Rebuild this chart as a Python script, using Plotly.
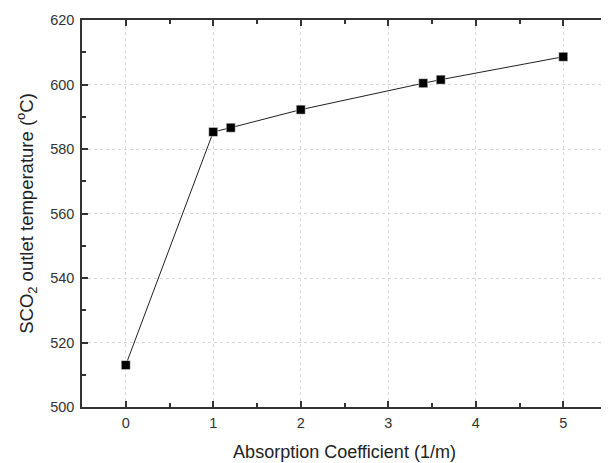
import plotly.graph_objects as go

absorption = [0, 1, 1.2, 2, 3.4, 3.6, 5]
outlet_temp = [513.0, 585.3, 586.6, 592.2, 600.4, 601.5, 608.6]

x_ticks = [0, 1, 2, 3, 4, 5]
y_ticks = [500, 520, 540, 560, 580, 600, 620]

fig = go.Figure()
fig.add_trace(go.Scatter(
    x=absorption, y=outlet_temp, mode="lines+markers",
    line=dict(color="#222222", width=1),
    marker=dict(symbol="square", size=9, color="black",
                line=dict(color="white", width=0.5)),
    showlegend=False,
))

axis_common = dict(
    showline=True, linecolor="#333333", linewidth=1.5, mirror="ticks",
    ticks="inside", ticklen=6, tickwidth=1.5, tickcolor="#333333",
    showgrid=True, gridcolor="#d8d8d8", griddash="dot", gridwidth=1,
    zeroline=False, automargin=False,
    tickfont=dict(family="Liberation Sans, Arial", size=14.5, color="#333333"),
)

fig.update_xaxes(
    range=[-0.5, 5.5], tickvals=x_ticks, ticklabelstandoff=2,
    minor=dict(dtick=0.5, ticks="inside", ticklen=4, tickwidth=1.5, tickcolor="#333333", showgrid=False),
    title=dict(text="Absorption Coefficient (1/m)",
               font=dict(family="Liberation Sans, Arial", size=18, color="#222222"), standoff=15),
    **axis_common,
)
fig.update_yaxes(
    range=[500, 620], tickvals=y_ticks, ticklabelstandoff=3,
    minor=dict(dtick=10, ticks="inside", ticklen=4, tickwidth=1.5, tickcolor="#333333", showgrid=False),
    title=dict(text="SCO<sub>2</sub> outlet temperature (<sup>o</sup>C)",
               font=dict(family="Liberation Sans, Arial", size=18.5, color="#222222"), standoff=12),
    **axis_common,
)

# the page body adds an 8 px offset, so margins are shifted to compensate
fig.update_layout(
    width=609, height=463,
    margin=dict(l=74, r=10, t=12, b=64),
    plot_bgcolor="white", paper_bgcolor="white",
)

fig.write_html("out.html")
